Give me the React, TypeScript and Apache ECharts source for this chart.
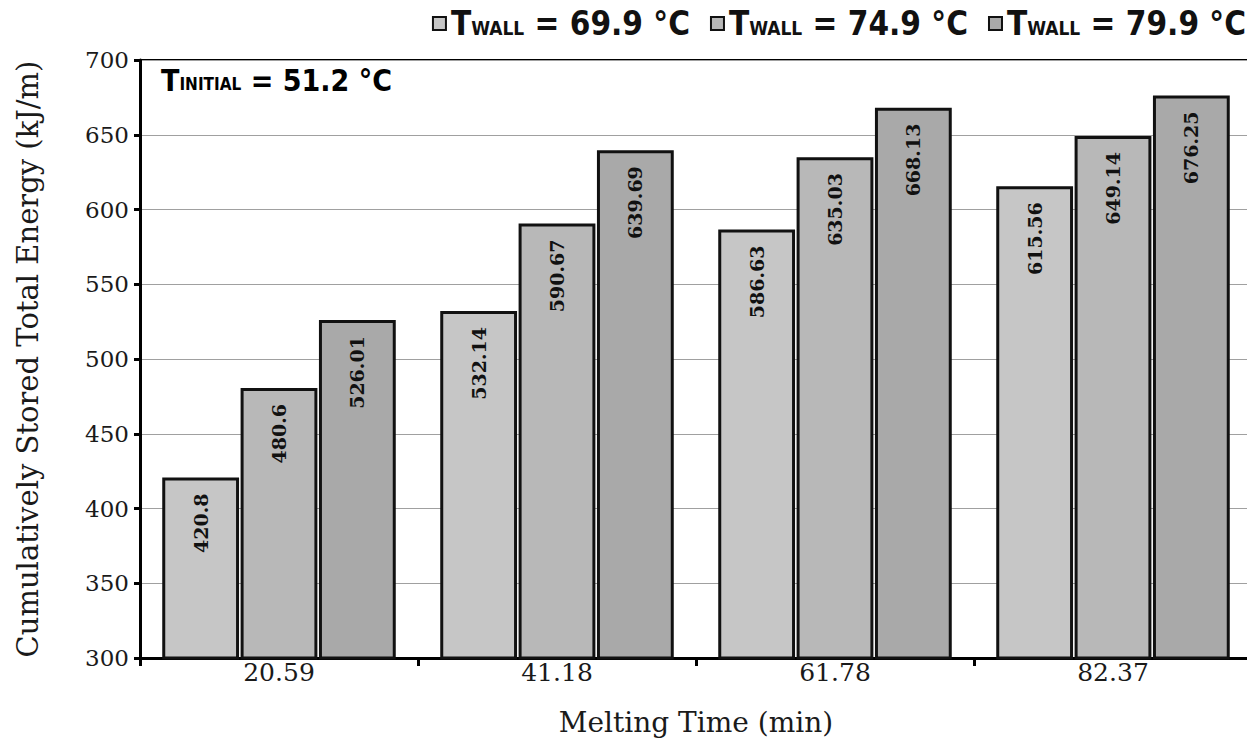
import React, { useEffect, useRef } from "react";
import * as echarts from "echarts";

const categories = ["20.59", "41.18", "61.78", "82.37"];
const seriesNames = ["69.9", "74.9", "79.9"];
const wall699 = [420.8, 532.14, 586.63, 615.56];
const wall749 = [480.6, 590.67, 635.03, 649.14];
const wall799 = [526.01, 639.69, 668.13, 676.25];
const barColors = ["#c6c6c6", "#b8b8b8", "#a9a9a9"];
const yTicks = { min: 300, max: 700, interval: 50 };

const SERIF = "'DejaVu Serif', 'Liberation Serif', serif";
const NARROW = "'DejaVu Sans Condensed', 'DejaVu Sans', sans-serif";

export default function App() {
  const ref = useRef<HTMLDivElement>(null);
  useEffect(() => {
    if (!ref.current) return;
    const chart = echarts.init(ref.current, null, { renderer: "svg" });
    const data = [wall699, wall749, wall799];
    const legendRich = {
      t: { fontFamily: NARROW, fontSize: 33, fontWeight: "bold", color: "#111" },
      s: { fontFamily: NARROW, fontSize: 19, fontWeight: "bold", color: "#111", verticalAlign: "bottom", padding: [0, 0, 3, 0] },
    };
    const noteRich = {
      t: { fontFamily: NARROW, fontSize: 30, fontWeight: "bold", color: "#111" },
      s: { fontFamily: NARROW, fontSize: 17, fontWeight: "bold", color: "#111", verticalAlign: "bottom", padding: [0, 0, 3, 0] },
    };
    chart.setOption({
      animation: false,
      backgroundColor: "#ffffff",
      grid: {
        left: 140,
        right: 3,
        top: 60,
        bottom: 89,
        show: true,
        borderColor: "#000",
        borderWidth: 2,
        containLabel: false,
        outerBoundsMode: "none",
      },
      legend: {
        right: 4,
        top: 2,
        icon: "rect",
        itemWidth: 13,
        itemHeight: 13,
        itemGap: 20,
        data: seriesNames.map((n) => "T" + n),
        itemStyle: { borderColor: "#111", borderWidth: 2 },
        formatter: (name: string) => `{t|T}{s|WALL}{t| = ${name.slice(1)} °C}`,
        textStyle: { rich: legendRich },
      },
      graphic: [
        {
          type: "text",
          left: 161,
          top: 65,
          style: {
            text: "{t|T}{s|INITIAL}{t| = 51.2 °C}",
            rich: noteRich,
          },
        },
      ],
      xAxis: {
        type: "category",
        data: categories,
        axisLine: { lineStyle: { color: "#000", width: 3 } },
        axisTick: { show: true, length: 8, lineStyle: { color: "#000", width: 3 } },
        axisLabel: { fontFamily: SERIF, fontSize: 25, color: "#1a1a1a", margin: 2 },
        name: "Melting Time (min)",
        nameLocation: "middle",
        nameGap: 50,
        nameTextStyle: { fontFamily: SERIF, fontSize: 28, color: "#1a1a1a" },
      },
      yAxis: {
        type: "value",
        min: yTicks.min,
        max: yTicks.max,
        interval: yTicks.interval,
        axisLine: { show: true, lineStyle: { color: "#000", width: 3 } },
        axisTick: { show: true, length: 6, lineStyle: { color: "#000", width: 3 } },
        axisLabel: { fontFamily: SERIF, fontSize: 23, color: "#1a1a1a", margin: 11 },
        splitLine: { show: true, lineStyle: { color: "#a0a0a0", width: 1 } },
        name: "Cumulatively Stored Total Energy (kJ/m)",
        nameLocation: "middle",
        nameGap: 98,
        nameTextStyle: { fontFamily: SERIF, fontSize: 29, color: "#1a1a1a" },
      },
      series: seriesNames.map((n, i) => ({
        name: "T" + n,
        type: "bar",
        data: data[i],
        barCategoryGap: "16%",
        barGap: "2%",
        itemStyle: { color: barColors[i], borderColor: "#111", borderWidth: 3 },
        label: {
          show: true,
          position: "insideTop",
          rotate: 90,
          align: "right",
          verticalAlign: "middle",
          distance: 16,
          fontFamily: SERIF,
          fontWeight: "bold",
          fontSize: 19,
          color: "#111",
          formatter: "{c}",
        },
      })),
    });
    return () => chart.dispose();
  }, []);
  return <div ref={ref} style={{ width: 1255, height: 747, margin: -8 }} />;
}
